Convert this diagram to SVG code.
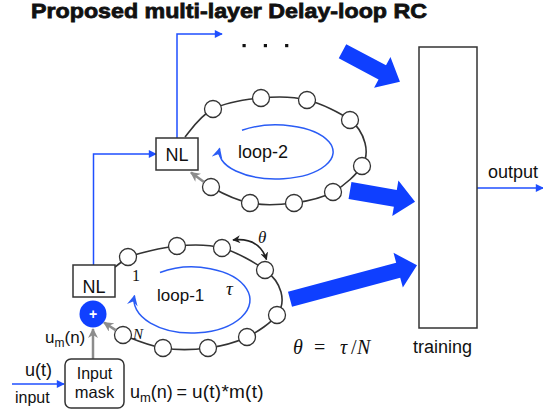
<svg xmlns="http://www.w3.org/2000/svg" width="543" height="411" viewBox="0 0 543 411">
<style>
  .sans { font-family: "Liberation Sans", Arial, sans-serif; fill: #111; }
  .serif { font-family: "Liberation Serif", "Times New Roman", serif; fill: #111; }
  .it { font-style: italic; }
  .box { fill: #fff; stroke: #333; stroke-width: 1.5; }
  .ring { fill: none; stroke: #333; stroke-width: 1.6; }
  .node { fill: #fff; stroke: #333; stroke-width: 1.3; }
  .blue { fill: none; stroke: #1f4fff; stroke-width: 1.5; }
  .inner { fill: none; stroke: #2a5cf5; stroke-width: 1.5; }
  .gray { fill: none; stroke: #8c8c8c; stroke-width: 2.5; }
  .fat { fill: #0f3fff; }
</style>
<defs>
  <marker id="tri" viewBox="0 0 10 10" refX="9" refY="5" markerWidth="9" markerHeight="8" markerUnits="userSpaceOnUse" orient="auto">
    <path d="M0,0 L10,5 L0,10 z" fill="#1f4fff"/>
  </marker>
  <marker id="chev" viewBox="0 0 10 10" refX="9" refY="5" markerWidth="11" markerHeight="11" markerUnits="userSpaceOnUse" orient="auto">
    <path d="M0,0 L10,5 L0,10 L3.5,5 z" fill="#2a5cf5"/>
  </marker>
  <marker id="grayhead" viewBox="0 0 10 10" refX="9" refY="5" markerWidth="10" markerHeight="10" markerUnits="userSpaceOnUse" orient="auto">
    <path d="M0,0 L10,5 L0,10 L3,5 z" fill="#8c8c8c"/>
  </marker>
  <marker id="blk" viewBox="0 0 10 10" refX="9" refY="5" markerWidth="8" markerHeight="8" markerUnits="userSpaceOnUse" orient="auto-start-reverse">
    <path d="M0,0 L10,5 L0,10 L3,5 z" fill="#222"/>
  </marker>
</defs>

<text id="title" class="sans" x="31" y="17.5" font-size="21" font-weight="bold" stroke="#111" stroke-width="0.8" textLength="396" lengthAdjust="spacingAndGlyphs">Proposed multi-layer Delay-loop RC</text>

<!-- rings -->
<g id="loop2">
  <path class="ring" d="M185,137 C190.5,130.2 200.3,115.5 213,109 C225.7,102.5 245.3,99.5 261,98 C276.7,96.5 292.2,96.3 307,100 C321.8,103.7 340.3,112.8 350,120 C359.7,127.2 363,135.3 365,143 C367,150.7 367.3,157.8 362,166 C356.7,174.2 344.3,185.8 333,192 C321.7,198.2 307.8,201.2 294,203 C280.2,204.8 263.8,205.7 250,203 C236.2,200.3 220.2,192.2 211,187"/>
  <circle class="node" cx="213" cy="109" r="8.5"/>
  <circle class="node" cx="261" cy="98" r="8.5"/>
  <circle class="node" cx="307" cy="100" r="8.5"/>
  <circle class="node" cx="350" cy="120" r="8.5"/>
  <circle class="node" cx="362" cy="166" r="8.5"/>
  <circle class="node" cx="333" cy="192" r="8.5"/>
  <circle class="node" cx="294" cy="203" r="8.5"/>
  <circle class="node" cx="250" cy="203" r="8.5"/>
  <circle class="node" cx="211" cy="187" r="8.5"/>
  <path class="inner" d="M242,130.3 A57,27 0 1 1 219.6,148.5" marker-end="url(#chev)"/>
  <text class="sans" x="238" y="158" font-size="18">loop-2</text>
</g>

<g id="loop1">
  <path class="ring" d="M115,267 L128,257 C138.3,253.5 161.3,247.5 177,246 C192.7,244.5 207.3,244 222,248 C236.7,252 255.2,262.7 265,270 C274.8,277.3 279,284.5 281,292 C283,299.5 282.7,307.5 277,315 C271.3,322.5 258.5,331.5 247,337 C235.5,342.5 222,346.2 208,348 C194,349.8 177.2,350.2 163,348 C148.8,345.8 132.7,338.8 123,335"/>
  <circle class="node" cx="128" cy="257" r="8.5"/>
  <circle class="node" cx="177" cy="246" r="8.5"/>
  <circle class="node" cx="222" cy="248" r="8.5"/>
  <circle class="node" cx="265" cy="270" r="8.5"/>
  <circle class="node" cx="277" cy="315" r="8.5"/>
  <circle class="node" cx="247" cy="337" r="8.5"/>
  <circle class="node" cx="208" cy="348" r="8.5"/>
  <circle class="node" cx="163" cy="348" r="8.5"/>
  <circle class="node" cx="123" cy="335" r="8.5"/>
  <path class="inner" d="M160,272.5 A58,33 0 1 1 134.5,295.7" marker-end="url(#chev)"/>
  <text class="sans" x="157" y="301" font-size="17">loop-1</text>
  <text class="serif" x="132" y="281" font-size="16">1</text>
  <text class="serif it" x="133" y="339" font-size="15">N</text>
  <text class="serif it" x="226" y="295" font-size="19">τ</text>
  <path d="M233,240 Q259,237 266.5,259.5" fill="none" stroke="#222" stroke-width="1.6" marker-start="url(#blk)" marker-end="url(#blk)"/>
  <text class="serif it" x="258" y="243" font-size="17">θ</text>
</g>

<!-- thick arrows to training -->
<g id="fat-arrows">
  <polygon class="fat" points="0,-8 45,-8 45,-17.5 65,0 45,17.5 45,8 0,8" transform="translate(342.5,51.3) rotate(27.9)"/>
  <polygon class="fat" points="0,-8.5 46,-8.5 46,-18 66,0 46,18 46,8.5 0,8.5" transform="translate(350,190.5) rotate(9.8)"/>
  <polygon class="fat" points="0,-7.8 112,-7.8 112,-18 131.5,0 112,18 112,7.8 0,7.8" transform="translate(290,299.2) rotate(-15)"/>
</g>

<!-- connectors -->
<g id="connectors">
  <polyline class="blue" points="177,138 177,34 222,34" marker-end="url(#tri)"/>
  <polyline class="blue" points="93.5,265 93.5,154 156,154" marker-end="url(#tri)"/>
  <line class="blue" x1="477" y1="188" x2="543" y2="188" marker-end="url(#tri)"/>
  <line class="blue" x1="12" y1="384" x2="64" y2="384" marker-end="url(#tri)"/>
  <line class="gray" x1="93" y1="359" x2="93" y2="329" marker-end="url(#grayhead)"/>
  <line class="gray" x1="116" y1="330.4" x2="104" y2="322.5" marker-end="url(#grayhead)"/>
  <line class="gray" x1="204" y1="182" x2="191" y2="172.5" marker-end="url(#grayhead)"/>
</g>

<g id="dots" fill="#111">
  <rect x="242.5" y="44" width="3.2" height="3.2"/>
  <rect x="263.8" y="44" width="3.2" height="3.2"/>
  <rect x="285.1" y="44" width="3.2" height="3.2"/>
</g>

<g id="nl2">
  <rect class="box" x="156" y="138" width="42" height="32"/>
  <text class="sans" x="177" y="161" font-size="18" text-anchor="middle">NL</text>
</g>

<g id="nl1">
  <rect class="box" x="73" y="265" width="42" height="32"/>
  <text class="sans" x="94" y="292.5" font-size="18" text-anchor="middle">NL</text>
</g>

<g id="sum">
  <circle cx="93" cy="314" r="13.5" fill="#1040ff"/>
  <text x="93" y="319" font-family="Liberation Sans, Arial, sans-serif" font-size="14" font-weight="bold" fill="#fff" text-anchor="middle">+</text>
</g>

<g id="inputmask">
  <rect class="box" x="65" y="359" width="59" height="49" rx="6"/>
  <text class="sans" x="94.5" y="379" font-size="16" text-anchor="middle">Input</text>
  <text class="sans" x="94.5" y="398" font-size="16.5" text-anchor="middle">mask</text>
</g>

<g id="training">
  <rect class="box" x="419" y="47" width="58" height="281"/>
  <text class="sans" x="413" y="353" font-size="18">training</text>
</g>

<g id="labels">
  <text class="sans" x="488" y="178" font-size="18">output</text>
  <text class="sans" x="25" y="376" font-size="18">u(t)</text>
  <text class="sans" x="15" y="403" font-size="16">input</text>
  <text class="sans" x="45" y="343" font-size="17">u<tspan font-size="12" dy="4">m</tspan><tspan dy="-4">(n)</tspan></text>
  <text class="sans" x="130" y="398" font-size="18">u<tspan font-size="13" dy="4">m</tspan><tspan dy="-4">(n)</tspan></text>
  <text class="sans" x="176.5" y="398" font-size="18">=</text>
  <text class="sans" x="192" y="398" font-size="19" textLength="71.5">u(t)*m(t)</text>
  <text class="serif it" x="293" y="354" font-size="20">θ</text>
  <text class="serif" x="314" y="354" font-size="20">=</text>
  <text class="serif it" x="340" y="354" font-size="20">τ</text>
  <text class="serif" x="351" y="354" font-size="20">/</text>
  <text class="serif it" x="357" y="354" font-size="20">N</text>
</g>
</svg>
